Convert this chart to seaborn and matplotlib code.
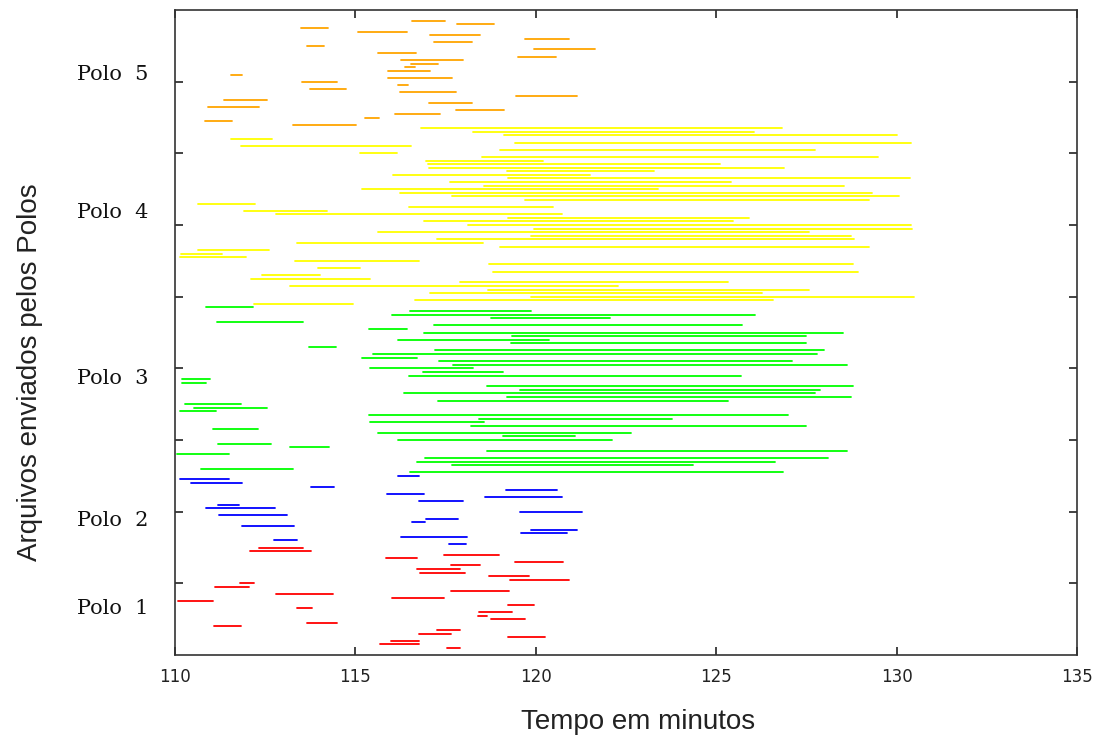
import matplotlib
matplotlib.use("Agg")
import matplotlib.pyplot as plt
import numpy as np
import pandas as pd
import seaborn as sns

# Transfer windows (start, end in minutes) for each file, listed per pole
# in file order; files are numbered consecutively from FIRST_FILE upwards.
FIRST_FILE = 2

polo1_start = [117.54, 115.69, 115.98, 119.24, 116.76, 117.25, 111.09, 113.67, 118.75, 118.39,
               118.42, 113.38, 119.24, 110.09, 116.01, 112.79, 117.65, 111.12, 111.80, 119.28,
               118.71, 116.79, 116.72, 117.65, 119.42, 115.84, 117.46, 112.07, 112.32]
polo1_end = [117.89, 116.75, 116.75, 120.26, 117.64, 117.89, 111.82, 114.48, 119.70, 118.66,
             119.34, 113.81, 119.94, 111.04, 117.46, 114.37, 119.27, 112.04, 112.18, 120.93,
             119.80, 118.03, 117.89, 118.46, 120.76, 116.72, 118.99, 113.77, 113.56]

polo2_start = [117.60, 112.75, 116.26, 119.60, 119.88, 111.86, 116.58, 116.97, 111.22, 119.56,
               110.87, 111.20, 116.76, 118.60, 115.87, 119.18, 113.78, 110.45, 110.13, 116.19]
polo2_end = [118.06, 113.38, 118.10, 120.86, 121.14, 113.31, 116.93, 117.85, 113.10, 121.28,
             112.77, 111.76, 117.99, 120.72, 116.90, 120.58, 114.41, 111.86, 111.50, 116.75]

polo3_start = [116.51, 110.73, 117.67, 116.72, 116.94, 110.06, 118.64, 113.18, 111.20, 116.19,
               119.10, 115.62, 111.06, 118.21, 115.40, 118.42, 115.38, 110.14, 110.52, 110.27,
               117.29, 119.21, 116.36, 119.56, 118.64, 110.20, 110.20, 116.48, 116.86, 115.40,
               117.71, 117.33, 115.19, 115.48, 117.21, 113.71, 119.31, 116.19, 119.35, 116.90,
               115.38, 117.19, 111.16, 118.75, 116.01, 116.50, 110.87]
polo3_end = [126.86, 113.27, 124.37, 126.64, 128.10, 111.50, 128.63, 114.27, 112.67, 122.10,
             121.08, 122.64, 112.31, 127.49, 118.56, 123.78, 127.00, 111.15, 112.54, 111.82,
             125.33, 128.73, 127.74, 127.88, 128.80, 110.86, 110.97, 125.69, 119.09, 118.27,
             128.63, 127.11, 116.72, 127.78, 127.99, 114.45, 127.49, 120.37, 127.49, 128.52,
             116.43, 125.72, 113.56, 122.07, 126.07, 119.87, 112.17]

polo4_start = [112.18, 116.65, 119.88, 117.08, 118.67, 113.18, 117.90, 112.11, 112.40, 118.82,
               113.96, 118.71, 113.32, 110.13, 110.16, 110.63, 119.00, 113.39, 117.26, 119.88,
               115.62, 119.96, 118.11, 116.90, 119.24, 112.79, 111.90, 116.48, 110.63, 119.71,
               117.67, 116.23, 115.19, 118.57, 117.61, 119.24, 116.05, 119.21, 117.04, 117.00,
               116.97, 118.50, 115.12, 119.00, 111.83, 119.42, 111.55, 119.13, 118.25, 116.83]
polo4_end = [114.94, 126.57, 130.48, 126.28, 127.56, 122.29, 125.33, 115.40, 114.02, 128.94,
             115.12, 128.80, 116.75, 111.96, 111.29, 112.60, 129.23, 118.55, 128.83, 128.73,
             127.56, 130.44, 130.40, 125.47, 125.90, 120.72, 114.22, 120.47, 112.21, 129.23,
             130.08, 129.33, 123.38, 128.55, 125.41, 130.37, 121.50, 123.27, 126.89, 125.11,
             120.19, 129.48, 116.14, 127.74, 116.53, 130.40, 112.70, 130.01, 126.05, 126.82]

polo5_start = [113.28, 110.84, 115.27, 116.09, 117.79, 110.91, 117.04, 111.36, 119.46, 116.23,
               113.74, 116.19, 113.52, 115.90, 111.55, 115.90, 116.37, 116.54, 116.26, 119.52,
               115.62, 119.94, 113.67, 117.18, 119.71, 117.08, 115.06, 113.49, 117.81, 116.58]
polo5_end = [115.02, 111.58, 115.65, 117.35, 119.13, 112.32, 118.24, 112.54, 121.15, 117.79,
             114.73, 116.47, 114.48, 117.67, 111.86, 117.07, 116.64, 117.29, 117.99, 120.55,
             116.68, 121.64, 114.13, 118.24, 120.91, 118.46, 116.43, 114.23, 118.85, 117.49]

polos = ["Polo 1", "Polo 2", "Polo 3", "Polo 4", "Polo 5"]
starts = [polo1_start, polo2_start, polo3_start, polo4_start, polo5_start]
ends = [polo1_end, polo2_end, polo3_end, polo4_end, polo5_end]
label_y = [13.1, 37.4, 77.3, 123.6, 161.9]
colors = ["#ff0000", "#0000ff", "#00ff00", "#ffff00", "#ffa500"]

# Long-format table: two rows (start/end) per file
rows = []
file_no = FIRST_FILE
for polo, s_list, e_list in zip(polos, starts, ends):
    for s, e in zip(s_list, e_list):
        rows.append({"polo": polo, "arquivo": file_no, "tempo": s})
        rows.append({"polo": polo, "arquivo": file_no, "tempo": e})
        file_no += 1
df = pd.DataFrame(rows)

sns.set_theme(style="ticks")
plt.rcParams["font.family"] = ["Liberation Sans", "DejaVu Sans"]

fig = plt.figure(figsize=(11.03, 7.4), dpi=100)
ax = fig.add_axes([175 / 1103, 85 / 740, 902 / 1103, 645 / 740])

sns.lineplot(data=df, x="tempo", y="arquivo", hue="polo", units="arquivo",
             estimator=None, sort=False, palette=dict(zip(polos, colors)),
             linewidth=1.3, legend=False, ax=ax)

ax.set_xlim(110, 135)
ax.set_ylim(0, 180)
ax.set_xticks(np.arange(110, 136, 5))
ax.set_yticks(np.arange(20, 180, 20))
ax.set_yticklabels([])
ax.tick_params(direction="in", length=6, width=1.2, top=True, right=True,
               labelsize=12, pad=9, colors="#222222")
for lbl in ax.get_xticklabels():
    lbl.set_family("DejaVu Sans")
for sp in ax.spines.values():
    sp.set_color("#333333")
    sp.set_linewidth(1.2)

ax.set_xlabel("Tempo em minutos", fontsize=20, color="#222222")
ax.xaxis.label.set_va("center")
ax.xaxis.set_label_coords(0.513, -0.104)
ax.set_ylabel("Arquivos enviados pelos Polos", fontsize=20, color="#222222")
ax.yaxis.label.set_va("center")
ax.yaxis.set_label_coords(-0.161, 0.439)

ytrans = ax.get_yaxis_transform()
for name, yv in zip(polos, label_y):
    ax.text(-0.029, yv, name.replace(" ", "  "), transform=ytrans, ha="right", va="center",
            fontsize=15, family="DejaVu Serif", color="#111111")

fig.savefig("out.png", dpi=100)
